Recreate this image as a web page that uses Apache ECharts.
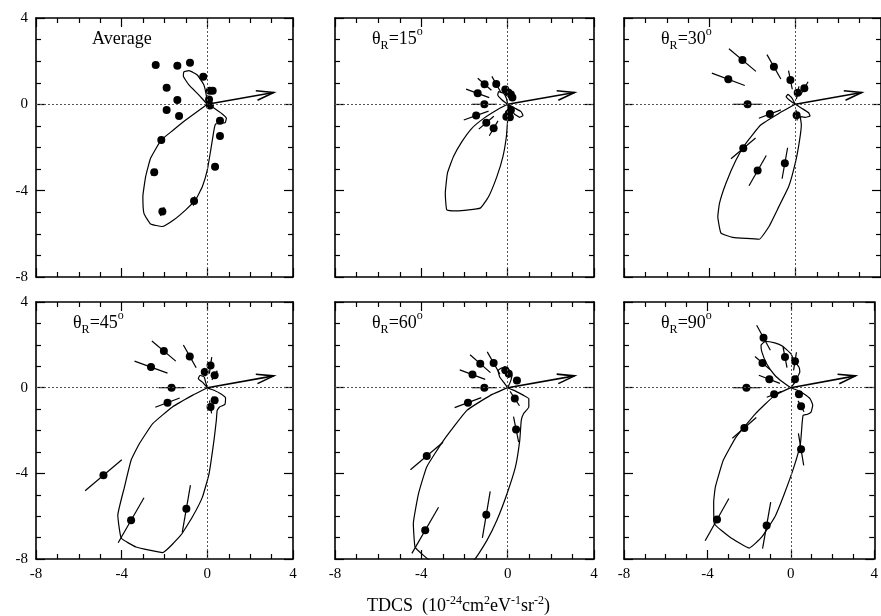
<!DOCTYPE html>
<html><head><meta charset="utf-8">
<script src="https://cdn.jsdelivr.net/npm/echarts@6/dist/echarts.min.js"></script>
<style>html,body{margin:0;padding:0;background:#fff}#c{width:881px;height:616px}</style>
</head><body><div id="c"></div>
<script>
// ---------------- data ----------------
const tickValues = [-8, -4, 0, 4];
const tickLabels = ['-8', '-4', '0', '4'];
const panelAngles = ['Average', '15', '30', '45', '60', '90'];
const arrowTip = [3.1, 0.55];

// points: [x, y, radial error half-length]
const ptsAvg = [[-2.41,1.82,0.1],[-1.40,1.79,0.08],[-0.81,1.93,0.08],[-0.19,1.28,0.08],[-1.90,0.77,0.08],[-1.40,0.20,0.08],[-1.90,-0.26,0.08],[-1.32,-0.54,0.08],[0.12,0.63,0.08],[0.25,0.63,0.08],[0.08,0.22,0.08],[0.12,-0.05,0.08],[0.59,-0.76,0.08],[0.59,-1.47,0.08],[-2.15,-1.65,0.1],[-2.48,-3.15,0.2],[0.36,-2.89,0.12],[-2.10,-4.97,0.22],[-0.62,-4.48,0.22]];
const pts15 = [[-1.07,0.93,0.42],[-0.53,0.94,0.41],[-1.39,0.51,0.57],[-1.08,0,0.58],[-1.46,-0.52,0.61],[-0.99,-0.85,0.46],[-0.65,-1.11,0.4],[-0.11,0.69,0.15],[0.03,0.55,0.15],[0.15,0.45,0.12],[0.22,0.32,0.1],[0.15,-0.26,0.1],[0.05,-0.42,0.12],[-0.06,-0.57,0.15],[0.1,-0.6,0.15]];
const pts30 = [[-2.47,2.05,0.82],[-1.0,1.74,0.65],[-0.23,1.13,0.44],[-3.13,1.16,0.82],[-2.23,0,0.68],[0.11,0.54,0.3],[0.42,0.74,0.35],[-1.19,-0.45,0.55],[0.06,-0.5,0.25],[-2.43,-2.04,0.75],[-1.76,-3.07,0.81],[-0.49,-2.73,0.73]];
const pts45 = [[-2.03,1.71,0.73],[-0.82,1.46,0.61],[-2.63,0.96,0.82],[-1.67,0,0.6],[-1.86,-0.7,0.61],[-0.12,0.73,0.2],[0.15,1.04,0.39],[0.34,0.58,0.25],[0.34,-0.59,0.2],[0.15,-0.9,0.3],[-4.85,-4.09,1.12],[-3.56,-6.19,1.21],[-0.98,-5.65,1.12]];
const pts60 = [[-1.27,1.12,0.63],[-0.65,1.15,0.6],[-1.63,0.61,0.63],[-1.08,0,0.58],[-1.84,-0.7,0.66],[-0.11,0.81,0.2],[0.05,0.65,0.2],[0.43,0.34,0.15],[0.33,-0.51,0.4],[0.39,-1.95,0.61],[-3.75,-3.19,0.99],[-3.82,-6.66,1.24],[-0.99,-5.93,1.1]];
const pts90 = [[-1.31,2.33,0.67],[-0.28,1.43,0.5],[0.2,1.23,0.43],[-1.36,1.15,0.47],[-1.03,0.39,0.54],[0.2,0.39,0.2],[-2.13,0,0.65],[-0.8,-0.31,0.38],[0.39,-0.31,0.2],[0.49,-0.87,0.29],[-2.23,-1.88,0.75],[0.49,-2.88,0.76],[-3.54,-6.16,1.14],[-1.16,-6.43,1.1]];

// theory curves (TDCS polar curves, x/y)
const curveAvg = [[0,0],[-1.01,-0.73],[-1.6,-1.2],[-2.15,-1.65],[-2.65,-2.5],[-2.88,-3.35],[-3.01,-4.27],[-2.96,-5.05],[-2.65,-5.54],[-2.1,-5.66],[-1.56,-5.35],[-1.01,-4.89],[-0.55,-4.43],[-0.23,-3.81],[0,-3.04],[0.16,-2.11],[0.31,-1.19],[0.39,-0.91],[0.58,-0.88],[0.83,-0.85],[0.89,-0.65],[0.7,-0.45],[0.39,-0.23],[0.16,-0.08],[0,0],[-0.39,0.43],[-0.86,0.9],[-1.12,1.31],[-1.09,1.51],[-0.86,1.56],[-0.47,1.36],[-0.16,0.9],[-0.05,0.43],[0,0]];
const curve15 = [[0,0],[-0.5,-0.26],[-1.11,-0.65],[-1.66,-1.11],[-2.12,-1.73],[-2.51,-2.42],[-2.79,-3.19],[-2.89,-4.12],[-2.82,-4.89],[-2.35,-4.94],[-1.27,-4.81],[-0.88,-4.27],[-0.5,-3.35],[-0.22,-2.42],[-0.06,-1.5],[0,-0.73],[0.05,-0.42],[0,0],[0.36,-0.19],[0.62,-0.34],[0.71,-0.52],[0.56,-0.6],[0.31,-0.45],[0.12,-0.19],[0,0],[-0.26,0.2],[-0.46,0.43],[-0.42,0.59],[-0.19,0.51],[-0.06,0.28],[0,0]];
const curve30 = [[0,0],[-0.77,-0.42],[-1.62,-0.96],[-2.31,-1.81],[-2.77,-2.58],[-3.24,-3.66],[-3.54,-4.58],[-3.62,-5.2],[-3.47,-5.97],[-2.93,-6.16],[-1.69,-6.25],[-1.23,-5.66],[-0.77,-4.74],[-0.31,-3.81],[0.03,-2.58],[0.2,-1.65],[0.28,-0.96],[0.23,-0.57],[0.46,-0.6],[0.69,-0.54],[0.62,-0.39],[0.31,-0.19],[0,0],[-0.28,0.2],[-0.43,0.35],[-0.34,0.46],[-0.15,0.28],[0,0]];
const curve45 = [[0,0],[-0.7,-0.36],[-1.63,-0.9],[-2.55,-1.68],[-3.17,-2.61],[-3.56,-3.39],[-3.87,-4.64],[-4.18,-5.96],[-4.02,-7.02],[-3.33,-7.44],[-2.09,-7.7],[-1.24,-6.89],[-0.7,-6.04],[-0.23,-5.11],[0.08,-4.02],[0.31,-2.46],[0.42,-1.53],[0.46,-1.06],[0.57,-0.9],[0.82,-0.78],[0.85,-0.47],[0.62,-0.28],[0.31,-0.12],[0,0],[-0.23,0.26],[-0.42,0.42],[-0.34,0.58],[-0.15,0.5],[-0.08,0.26],[0,0]];
const curve60 = [[0,0],[-0.8,-0.36],[-1.89,-1.06],[-2.97,-2.46],[-3.75,-3.7],[-4.13,-4.95],[-4.37,-6.35],[-4.29,-7.44],[-3.9,-7.83],[-3.3,-8.3],[-2.4,-8.6],[-1.5,-7.98],[-0.96,-7.13],[-0.5,-6.19],[-0.03,-4.95],[0.36,-3.7],[0.56,-2.46],[0.63,-1.53],[0.74,-1.21],[0.98,-0.9],[0.98,-0.51],[0.74,-0.36],[0.36,-0.16],[0,0],[-0.19,0.26],[-0.37,0.5],[-0.45,0.8],[-0.26,0.92],[0.05,0.84],[0.2,0.58],[0.12,0.26],[0,0]];
const curve90 = [[0,0],[-0.77,-0.36],[-1.69,-1.21],[-2.62,-2.3],[-3.24,-3.39],[-3.62,-4.64],[-3.7,-5.34],[-3.67,-6.35],[-2.93,-6.97],[-2.0,-7.49],[-1.39,-6.97],[-0.77,-6.04],[-0.31,-4.95],[0.15,-3.7],[0.46,-2.61],[0.54,-1.68],[0.59,-1.29],[0.77,-1.25],[0.97,-1.14],[1.05,-0.82],[0.92,-0.51],[0.62,-0.28],[0.31,-0.12],[0,0],[-0.39,0.26],[-0.77,0.58],[-1.16,1.12],[-1.39,1.67],[-1.43,1.98],[-1.23,2.16],[-0.77,2.09],[-0.39,1.93],[0,1.59],[0.15,1.28],[0.39,0.96],[0.43,0.73],[0.28,0.42],[0.15,0.19],[0,0]];

const panelPoints = [ptsAvg, pts15, pts30, pts45, pts60, pts90];
const panelCurves = [curveAvg, curve15, curve30, curve45, curve60, curve90];

// ---------------- layout / style ----------------
const FONT = 'Liberation Serif';
const grids = [
  {left: 36, top: 18, width: 257, height: 259},
  {left: 335, top: 18, width: 259, height: 259},
  {left: 624, top: 18, width: 257, height: 259},
  {left: 36, top: 302, width: 257, height: 257},
  {left: 335, top: 302, width: 259, height: 257},
  {left: 624, top: 302, width: 257, height: 257}
];
const fmt = v => { const i = tickValues.indexOf(v); return i >= 0 ? tickLabels[i] : ''; };
function axis(i, pos, showLabel) {
  return {
    type: 'value', gridIndex: i, position: pos, min: -8, max: 4, interval: 4,
    axisLine: {onZero: false, lineStyle: {color: '#000', width: 1.6}},
    axisTick: {inside: true, length: 9, lineStyle: {color: '#000', width: 1.2}},
    minorTick: {show: true, splitNumber: 4, length: 5, lineStyle: {color: '#000', width: 1.2}},
    splitLine: {show: false}, minorSplitLine: {show: false},
    axisLabel: {show: showLabel, color: '#000', fontFamily: FONT, fontSize: 15, margin: 8, formatter: fmt}
  };
}
const xAxes = [], yAxes = [], series = [], titles = [];
grids.forEach((g, i) => {
  const bottomRow = i >= 3, leftCol = (i % 3) === 0;
  xAxes.push(axis(i, 'bottom', bottomRow), axis(i, 'top', false));
  yAxes.push(axis(i, 'left', leftCol), axis(i, 'right', false));
  const xi = 2 * i, yi = 2 * i;
  series.push({
    type: 'line', xAxisIndex: xi, yAxisIndex: yi, data: panelCurves[i],
    showSymbol: false, symbol: 'none', smooth: 0.12, clip: true,
    lineStyle: {color: '#000', width: 1.2}, z: 2,
    markLine: {silent: true, symbol: ['none', 'none'], label: {show: false},
      lineStyle: {type: [2, 2], color: '#555', width: 1}, data: [{xAxis: 0}, {yAxis: 0}]}
  });
  series.push({
    type: 'custom', xAxisIndex: xi, yAxisIndex: yi, data: panelPoints[i],
    dimensions: ['x', 'y', 'e'], encode: {x: 0, y: 1}, z: 3, clip: true,
    renderItem: (params, api) => {
      const x = api.value(0), y = api.value(1), e = api.value(2);
      const r = Math.hypot(x, y) || 1, ux = x / r, uy = y / r;
      const p1 = api.coord([x - e * ux, y - e * uy]), p2 = api.coord([x + e * ux, y + e * uy]);
      return {type: 'line', shape: {x1: p1[0], y1: p1[1], x2: p2[0], y2: p2[1]},
        style: {stroke: '#000', lineWidth: 1.2}};
    }
  });
  series.push({
    type: 'scatter', xAxisIndex: xi, yAxisIndex: yi, data: panelPoints[i].map(p => [p[0], p[1]]),
    symbol: 'circle', symbolSize: 8, itemStyle: {color: '#000', opacity: 1, borderWidth: 0}, z: 4
  });
  series.push({
    type: 'custom', xAxisIndex: xi, yAxisIndex: yi, data: [arrowTip], z: 5,
    renderItem: (params, api) => {
      const o = api.coord([0, 0]), t = api.coord([api.value(0), api.value(1)]);
      const a = Math.atan2(t[1] - o[1], t[0] - o[0]), L = 18, w = 0.27;
      const b1 = [t[0] - L * Math.cos(a - w), t[1] - L * Math.sin(a - w)];
      const b2 = [t[0] - L * Math.cos(a + w), t[1] - L * Math.sin(a + w)];
      return {type: 'group', children: [
        {type: 'line', shape: {x1: o[0], y1: o[1], x2: t[0], y2: t[1]}, style: {stroke: '#000', lineWidth: 1.6}},
        {type: 'polyline', shape: {points: [b1, t, b2]}, style: {stroke: '#000', fill: null, lineWidth: 1.6}}
      ]};
    }
  });
  const rich = {
    t: {fontFamily: FONT, fontSize: 18, fontWeight: 'normal', color: '#000', lineHeight: 26, verticalAlign: 'middle'},
    s: {fontFamily: FONT, fontSize: 12, fontWeight: 'normal', color: '#000', verticalAlign: 'bottom'},
    o: {fontFamily: FONT, fontSize: 12, fontWeight: 'normal', color: '#000', verticalAlign: 'top'}
  };
  const text = i === 0 ? '{t|' + panelAngles[0] + '}' : '{t|θ}{s|R}{t|=' + panelAngles[i] + '}{o|o}';
  titles.push({text: text, left: g.left + (i === 0 ? 56 : 37), top: g.top + 8,
    textStyle: {rich: rich, fontWeight: 'normal'}, padding: 0});
});
titles.push({
  text: '{a|TDCS  (10}{u|-24}{a|cm}{u|2}{a|eV}{u|-1}{a|sr}{u|-2}{a|)}',
  left: 367, top: 595, padding: 0,
  textStyle: {fontWeight: 'normal', rich: {
    a: {fontFamily: FONT, fontSize: 18, fontWeight: 'normal', color: '#000', lineHeight: 20, verticalAlign: 'bottom'},
    u: {fontFamily: FONT, fontSize: 12, fontWeight: 'normal', color: '#000', lineHeight: 12, verticalAlign: 'top'}
  }}
});

const chart = echarts.init(document.getElementById('c'), null, {renderer: 'canvas'});
chart.setOption({
  animation: false, backgroundColor: '#fff',
  title: titles, grid: grids, xAxis: xAxes, yAxis: yAxes, series: series
});
</script>
</body></html>
